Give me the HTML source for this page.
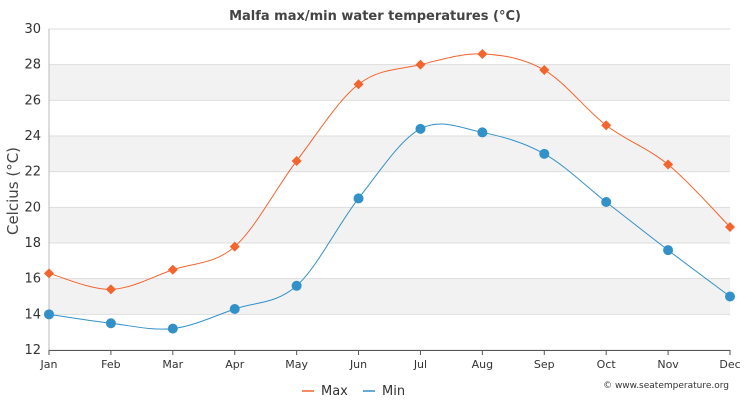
<!DOCTYPE html>
<html><head><meta charset="utf-8"><style>
body{margin:0;background:#fff;}
svg{display:block;font-family:"DejaVu Sans","Liberation Sans",sans-serif;}
</style></head><body>
<svg id="s" width="750" height="400" xmlns="http://www.w3.org/2000/svg">
<rect width="750" height="400" fill="#fff"/>
<g id="bands"></g>
<text x="375" y="20" text-anchor="middle" font-size="13" font-weight="bold" fill="#444">Malfa max/min water temperatures (°C)</text>
<text transform="translate(18,191) rotate(-90)" text-anchor="middle" font-size="15" fill="#444">Celcius (°C)</text>
<g id="g"></g>
<g font-size="13" fill="#333">
<line x1="302" y1="391" x2="314" y2="391" stroke="#f4642d" stroke-width="1.5"/>
<text x="321" y="395">Max</text>
<line x1="363" y1="391" x2="375" y2="391" stroke="#3391c9" stroke-width="1.5"/>
<text x="382" y="395">Min</text>
</g>
<text x="729" y="388" text-anchor="end" font-size="9" fill="#333">© www.seatemperature.org</text>
</svg>
<script>
var NS="http://www.w3.org/2000/svg",g=document.getElementById('g'),b=document.getElementById('bands');
function el(t,a,p){var e=document.createElementNS(NS,t);for(var k in a)e.setAttribute(k,a[k]);(p||g).appendChild(e);return e;}
function Y(v){return 350-(v-12)*17.833;}
var L=49,R=730,dx=(R-L)/11;
for(var v=14;v<=26;v+=4)el('rect',{x:L,y:Y(v+2),width:R-L,height:Y(v)-Y(v+2),fill:'#f2f2f2'},b);
for(var v=12;v<=30;v+=2){el('line',{x1:L,x2:R,y1:Y(v),y2:Y(v),stroke:'#ddd','stroke-width':1});
 var t=el('text',{x:41,y:Y(v)+4,'text-anchor':'end','font-size':13,fill:'#333'});t.textContent=v;}
el('line',{x1:L,x2:L,y1:Y(30),y2:350,stroke:'#bbb'});
el('line',{x1:L,x2:R,y1:350.5,y2:350.5,stroke:'#555'});
var m=['Jan','Feb','Mar','Apr','May','Jun','Jul','Aug','Sep','Oct','Nov','Dec'];
m.forEach(function(n,i){var x=L+i*dx;el('line',{x1:x,x2:x,y1:350,y2:355,stroke:'#555'});
 var t=el('text',{x:x,y:368,'text-anchor':'middle','font-size':11,fill:'#333'});t.textContent=n;});
var mx=[16.3,15.4,16.5,17.8,22.6,26.9,28.0,28.6,27.7,24.6,22.4,18.9],mn=[14.0,13.5,13.2,14.3,15.6,20.5,24.4,24.2,23.0,20.3,17.6,15.0];
function path(d){var p=d.map(function(v,i){return[L+i*dx,Y(v)];});var s='M'+p[0][0]+','+p[0][1];
 for(var i=0;i<p.length-1;i++){var p0=p[i-1]||p[i],p1=p[i],p2=p[i+1],p3=p[i+2]||p2;
 s+=' C'+(p1[0]+(p2[0]-p0[0])/6)+','+(p1[1]+(p2[1]-p0[1])/6)+' '+(p2[0]-(p3[0]-p1[0])/6)+','+(p2[1]-(p3[1]-p1[1])/6)+' '+p2[0]+','+p2[1];}return s;}
el('path',{d:path(mx),fill:'none',stroke:'#f4642d','stroke-width':1});
el('path',{d:path(mn),fill:'none',stroke:'#3391c9','stroke-width':1});
mx.forEach(function(v,i){var x=L+i*dx,y=Y(v);el('path',{d:'M'+x+','+(y-5)+' L'+(x+5)+','+y+' L'+x+','+(y+5)+' L'+(x-5)+','+y+'Z',fill:'#f4642d'});});
mn.forEach(function(v,i){el('circle',{cx:L+i*dx,cy:Y(v),r:5,fill:'#3391c9'});});
</script>
</body></html>
